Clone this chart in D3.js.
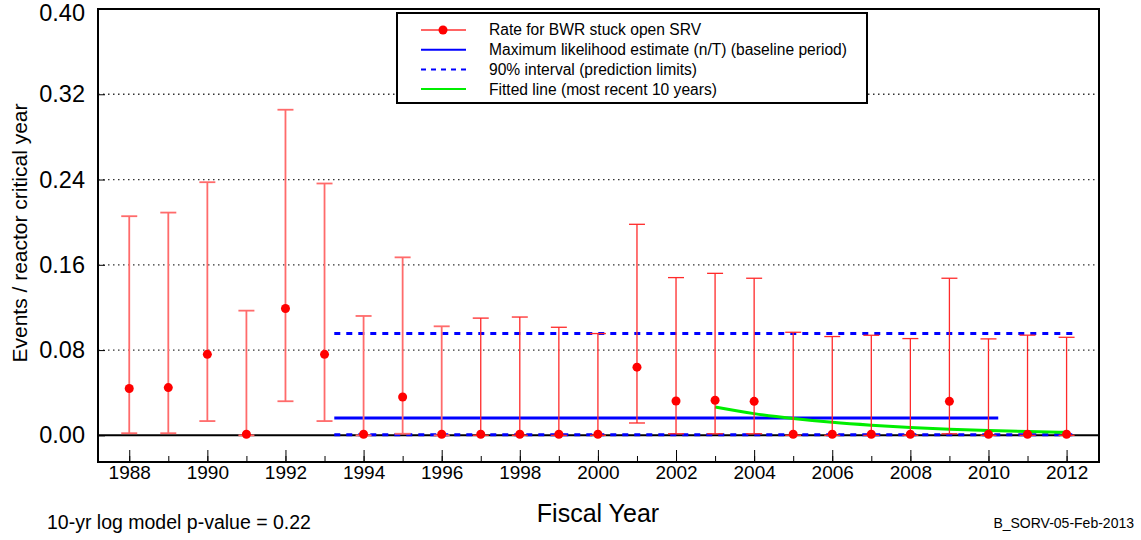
<!DOCTYPE html>
<html>
<head>
<meta charset="utf-8">
<script src="https://cdn.jsdelivr.net/npm/d3@7"></script>
<style>
  body { margin: 0; background: #fff; }
  svg { font-family: "Liberation Sans", Arial, sans-serif; }
</style>
</head>
<body>
<svg id="chart"></svg>
<script>
const years = d3.range(1988, 2013);
const rate  = [0.044, 0.0448, 0.076, 0.001, 0.119, 0.076, 0.001, 0.036, 0.001, 0.001, 0.001, 0.001, 0.001,
               0.064, 0.0322, 0.0329, 0.0319, 0.001, 0.001, 0.001, 0.001, 0.0319, 0.001, 0.001, 0.001];
const lower = [0.002, 0.002, 0.0134, 0, 0.032, 0.0134, 0, 0.0015, 0, 0, 0, 0, 0,
               0.0116, 0.0015, 0.0015, 0.0015, 0, 0, 0, 0, 0.0015, 0, 0, 0];
const upper = [0.2056, 0.209, 0.2375, 0.117, 0.3055, 0.2363, 0.112, 0.167, 0.1023, 0.110, 0.111, 0.1014, 0.0955,
               0.198, 0.148, 0.152, 0.1474, 0.0967, 0.0927, 0.0939, 0.0908, 0.1474, 0.0905, 0.094, 0.092];

// baseline period estimates
const baseline = [1993.25, 2010.25];
const mle = 0.0163;
const predRange = [1993.25, 2012.25];
const predLow = 0.0005;
const predHigh = 0.0955;

// fitted line, most recent 10 years
const fitYears = d3.range(2003, 2013);
const fitVals = [0.0266, 0.0204, 0.0158, 0.0122, 0.0095, 0.0074, 0.0058, 0.0045, 0.0035, 0.0028];

const yTicks = [0, 0.08, 0.16, 0.24, 0.32, 0.40];
const gridTicks = [0.08, 0.16, 0.24, 0.32];

const width = 1141;
const height = 540;
const plot = { left: 98, right: 1099, top: 9, bottom: 462 };

const svg = d3.select("#chart")
    .attr("width", width)
    .attr("height", height);

const x = d3.scaleLinear().domain([1987.2, 2012.83]).range([plot.left, plot.right]);
const y = d3.scaleLinear().domain([-0.025, 0.40]).range([plot.bottom, plot.top]);

const data = years.map((yr, i) => ({year: yr, rate: rate[i], lo: lower[i], hi: upper[i]}));

//grid
svg.selectAll(".grid")
    .data(gridTicks)
    .enter()
    .append("line")
    .attr("x1", plot.left).attr("x2", plot.right)
    .attr("y1", d => y(d)).attr("y2", d => y(d))
    .attr("stroke", "#333")
    .attr("stroke-width", 1.3)
    .attr("stroke-dasharray", "1.5,3.5");

//zero line
svg.append("line")
    .attr("x1", plot.left).attr("x2", plot.right)
    .attr("y1", y(0)).attr("y2", y(0))
    .attr("stroke", "#000")
    .attr("stroke-width", 2);

//axes
const xMinor = svg.append("g")
    .attr("transform", `translate(0,${plot.bottom})`)
    .call(d3.axisBottom(x).tickValues(years).tickSize(-6).tickFormat(""));
xMinor.select(".domain").remove();

const xMajor = svg.append("g")
    .attr("transform", `translate(0,${plot.bottom})`)
    .call(d3.axisBottom(x).tickValues(years.filter(d => d % 2 === 0)).tickSize(-12).tickPadding(3).tickFormat(d3.format("d")));
xMajor.select(".domain").remove();
xMajor.selectAll("text").attr("font-size", 19).attr("fill", "#000");

const yAxis = svg.append("g")
    .attr("transform", `translate(${plot.left},0)`)
    .call(d3.axisLeft(y).tickValues(yTicks).tickSize(-7).tickPadding(13).tickFormat(d3.format(".2f")));
yAxis.select(".domain").remove();
yAxis.selectAll("text").attr("font-size", 23.5).attr("fill", "#000");
// top label sits a little lower so it stays inside the page
yAxis.selectAll(".tick").filter(d => d === 0.40).select("text").attr("dy", "0.5em");

//blue lines
svg.append("line")
    .attr("x1", x(baseline[0])).attr("x2", x(baseline[1]))
    .attr("y1", y(mle)).attr("y2", y(mle))
    .attr("stroke", "#0000ff").attr("stroke-width", 3);

[predLow, predHigh].forEach(v => {
  svg.append("line")
    .attr("x1", x(predRange[0])).attr("x2", x(predRange[1]))
    .attr("y1", y(v)).attr("y2", y(v))
    .attr("stroke", "#0000ff").attr("stroke-width", 3)
    .attr("stroke-dasharray", "6,6");
});

//fitted line
const fitLine = d3.line()
    .x((d, i) => x(fitYears[i]))
    .y(d => y(d))
    .curve(d3.curveMonotoneX);

svg.append("path")
    .datum(fitVals)
    .attr("fill", "none")
    .attr("stroke", "#00ee00")
    .attr("stroke-width", 3)
    .attr("d", fitLine);

//error bars
const bars = svg.selectAll(".bar")
    .data(data)
    .enter()
    .append("g")
    .attr("stroke", (d, i) => i < 9 ? "#ff6b6b" : "#ff2a2a")
    .attr("stroke-width", (d, i) => i < 9 ? 1.8 : 1.3);

bars.append("line")
    .attr("x1", d => x(d.year)).attr("x2", d => x(d.year))
    .attr("y1", d => y(d.lo)).attr("y2", d => y(d.hi));
bars.append("line")
    .attr("x1", d => x(d.year) - 8).attr("x2", d => x(d.year) + 8)
    .attr("y1", d => y(d.hi)).attr("y2", d => y(d.hi));
bars.append("line")
    .attr("x1", d => x(d.year) - 8).attr("x2", d => x(d.year) + 8)
    .attr("y1", d => y(d.lo)).attr("y2", d => y(d.lo));

svg.selectAll(".dot")
    .data(data)
    .enter()
    .append("circle")
    .attr("cx", d => x(d.year))
    .attr("cy", d => y(d.rate))
    .attr("r", 4.5)
    .attr("fill", "#ff0000");

//frame
svg.append("rect")
    .attr("x", plot.left).attr("y", plot.top)
    .attr("width", plot.right - plot.left).attr("height", plot.bottom - plot.top)
    .attr("fill", "none")
    .attr("stroke", "#000")
    .attr("stroke-width", 2);

//legend
const legend = svg.append("g");
legend.append("rect")
    .attr("x", 397).attr("y", 13)
    .attr("width", 470).attr("height", 90)
    .attr("fill", "#fff")
    .attr("stroke", "#000")
    .attr("stroke-width", 2);

const legendItems = [
  "Rate for BWR stuck open SRV",
  "Maximum likelihood estimate (n/T) (baseline period)",
  "90% interval (prediction limits)",
  "Fitted line (most recent 10 years)"
];
const legendColors = ["#ff3030", "#0000ff", "#0000ff", "#00ee00"];

legendItems.forEach((t, i) => {
  const ly = 30 + i * 19.7;
  legend.append("line")
    .attr("x1", 421).attr("x2", 466)
    .attr("y1", ly).attr("y2", ly)
    .attr("stroke", legendColors[i])
    .attr("stroke-width", i === 0 ? 1.3 : 2)
    .attr("stroke-dasharray", i === 2 ? "5,5" : null);
  if (i === 0) {
    legend.append("circle").attr("cx", 443).attr("cy", ly).attr("r", 4.5).attr("fill", "#ff0000");
  }
  legend.append("text")
    .attr("x", 489).attr("y", ly)
    .attr("dy", "0.35em")
    .attr("font-size", 15.6)
    .text(t);
});

//labels
svg.append("text")
    .attr("transform", "rotate(-90)")
    .attr("x", -233).attr("y", 20)
    .attr("dy", "0.35em")
    .attr("text-anchor", "middle")
    .attr("font-size", 21)
    .text("Events / reactor critical year");

svg.append("text")
    .attr("x", 598).attr("y", 522)
    .attr("text-anchor", "middle")
    .attr("font-size", 25)
    .text("Fiscal Year");

svg.append("text")
    .attr("x", 47).attr("y", 529)
    .attr("font-size", 19.5)
    .text("10-yr log model p-value = 0.22");

svg.append("text")
    .attr("x", 1134).attr("y", 528)
    .attr("text-anchor", "end")
    .attr("font-size", 14)
    .text("B_SORV-05-Feb-2013");
</script>
</body>
</html>
